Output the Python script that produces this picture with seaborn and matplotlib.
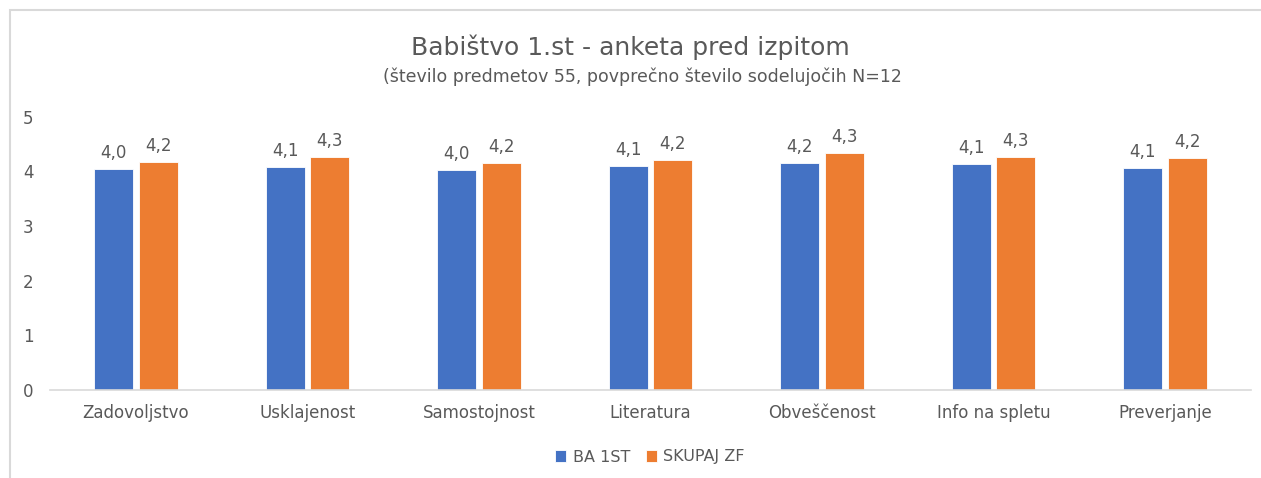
import matplotlib
matplotlib.use("Agg")
import matplotlib.pyplot as plt
import seaborn as sns
import pandas as pd
from matplotlib.patches import Rectangle

# ---- data ----
categories = ["Zadovoljstvo", "Usklajenost", "Samostojnost", "Literatura",
              "Obveščenost", "Info na spletu", "Preverjanje"]
ba_1st = [4.04, 4.08, 4.02, 4.10, 4.16, 4.13, 4.06]
skupaj_zf = [4.17, 4.26, 4.16, 4.21, 4.33, 4.27, 4.24]
series_names = ["BA 1ST", "SKUPAJ ZF"]
y_ticks = [0, 1, 2, 3, 4, 5]

title = "Babištvo 1.st - anketa pred izpitom"
subtitle = "(število predmetov 55, povprečno število sodelujočih N=12"

df = pd.DataFrame({
    "kategorija": categories * 2,
    "serija": [series_names[0]] * len(categories) + [series_names[1]] * len(categories),
    "vrednost": ba_1st + skupaj_zf,
})

sns.set_theme(style="white")
plt.rcParams["font.family"] = ["DejaVu Sans"]
text_col = "#595959"

fig = plt.figure(figsize=(12.61, 4.78), dpi=100)
ax = fig.add_axes([50 / 1261, 1 - 390 / 478, 1201 / 1261, (390 - 116.7) / 478])

sns.barplot(data=df, x="kategorija", y="vrednost", hue="serija",
            palette=["#4472C4", "#ED7D31"], saturation=1, width=0.52, gap=0.125,
            edgecolor="white", linewidth=0.6, ax=ax)

for cont in ax.containers:
    labels = [f"{b.get_height():.1f}".replace(".", ",") for b in cont]
    ax.bar_label(cont, labels=labels, padding=5, fontsize=12, color=text_col)

ax.set_ylim(0, 5)
ax.set_yticks(y_ticks)
ax.set_xlim(-0.5, len(categories) - 0.5)
ax.set_xlabel("")
ax.set_ylabel("")
ax.tick_params(axis="both", length=0, labelsize=12, labelcolor=text_col)
ax.tick_params(axis="x", pad=10)
ax.tick_params(axis="y", pad=12)
for s in ["top", "right", "left"]:
    ax.spines[s].set_visible(False)
ax.spines["bottom"].set_color("#D9D9D9")
ax.spines["bottom"].set_linewidth(1.2)

handles, lbls = ax.get_legend_handles_labels()
ax.legend(handles, lbls, loc="center", bbox_to_anchor=(650 / 1261, 1 - 457 / 478),
          bbox_transform=fig.transFigure, ncol=2, frameon=False,
          handlelength=0.7, handleheight=0.7, handletextpad=0.4, columnspacing=1.0,
          fontsize=11.5, labelcolor=text_col)

fig.text(630 / 1261, 1 - 47 / 478, title, ha="center", va="center",
         fontsize=18, color=text_col)
fig.text(642 / 1261, 1 - 77 / 478, subtitle, ha="center", va="center",
         fontsize=12.5, color=text_col)

# chart frame
fig.patches.append(Rectangle((10 / 1261, -0.1), 1.2, 1 - 10 / 478 + 0.1,
                             transform=fig.transFigure, fill=False,
                             edgecolor="#D9D9D9", linewidth=1.5))

fig.savefig("out.png", dpi=100, facecolor="white")
